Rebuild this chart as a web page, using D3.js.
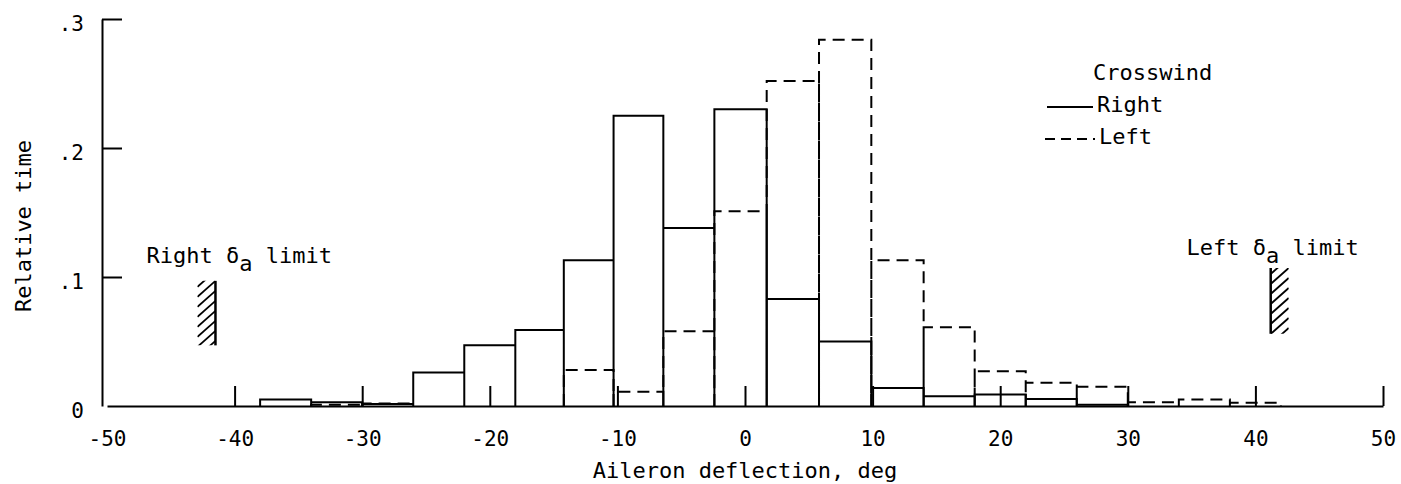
<!DOCTYPE html>
<html><head><meta charset="utf-8">
<script src="https://cdn.jsdelivr.net/npm/d3@7"></script>
<style>
html,body{margin:0;padding:0;background:#fff;}
svg{display:block;}
text{font-family:"DejaVu Sans Mono",monospace;fill:#000;}
</style></head><body>
<svg id="chart" width="1401" height="484"></svg>
<script>
// bin edges (deg) and relative time per bin
const binEdges = [-38,-34,-30,-26,-22,-18,-14.2,-10.3,-6.4,-2.4,1.7,5.8,9.9,14,18,22,26,30,34,38,42];
const rightWind = [0.005,0.003,0.0015,0.026,0.047,0.059,0.113,0.225,0.138,0.230,0.083,0.050,0.014,0.0075,0.009,0.0055,0.001,0,0,0];
const leftWind  = [0,0.001,0.002,0,0,0,0.028,0.011,0.058,0.151,0.252,0.284,0.113,0.061,0.027,0.018,0.015,0.003,0.005,0.0025];
const xTicks = [-50,-40,-30,-20,-10,0,10,20,30,40,50];
const yTicks = [0,0.1,0.2,0.3];
const yTickLabels = ["0",".1",".2",".3"];
const limitNames = ["Right","Left"];
const limitX = [-41.5,41.2];
const limitY = [[0.047,0.097],[0.056,0.107]];
const limitTextX = [-46.9,34.6];
const limitTextY = [0.111,0.117];

const svg = d3.select("#chart");
const x = d3.scaleLinear().domain([-50,50]).range([107,1383]);
const y = d3.scaleLinear().domain([0,0.3]).range([406,19]);
const axisX = 102;

// x axis (ticks pointing up)
const gx = svg.append("g").attr("transform",`translate(0,${y(0)})`)
  .call(d3.axisBottom(x).tickValues(xTicks).tickSize(-20).tickSizeOuter(0).tickPadding(27).tickFormat(d=>String(d)));
gx.select(".domain").attr("stroke","#000").attr("stroke-width",2);
gx.selectAll(".tick line").attr("stroke","#000").attr("stroke-width",2);
gx.selectAll(".tick").filter(d=>d===-50).select("line").remove();
gx.selectAll(".tick text").attr("font-size",21).attr("font-family","DejaVu Sans Mono").attr("dy","0.6em");

// y axis (ticks pointing right)
const gy = svg.append("g").attr("transform",`translate(${axisX},0)`)
  .call(d3.axisLeft(y).tickValues(yTicks).tickSize(-20).tickSizeOuter(0).tickPadding(18).tickFormat((d,i)=>yTickLabels[i]));
gy.select(".domain").attr("stroke","#000").attr("stroke-width",2);
gy.selectAll(".tick line").attr("stroke","#000").attr("stroke-width",2);
gy.selectAll(".tick").filter(d=>d===0).select("line").remove();
gy.selectAll(".tick text").attr("font-size",21).attr("font-family","DejaVu Sans Mono").attr("dy","0.55em");

// histogram outlines
function histPath(vals){
  let p = "";
  vals.forEach((v,i)=>{
    if(v<=0) return;
    const x0 = x(binEdges[i]), x1 = x(binEdges[i+1]);
    p += `M${x0},${y(0)}V${y(v)}H${x1}V${y(0)}`;
  });
  return p;
}
svg.append("path").attr("d",histPath(leftWind)).attr("fill","none").attr("stroke","#000")
  .attr("stroke-width",2).attr("stroke-dasharray","12,7");
svg.append("path").attr("d",histPath(rightWind)).attr("fill","none").attr("stroke","#000")
  .attr("stroke-width",2);

// aileron limits with hatching
const defs = svg.append("defs");
limitNames.forEach((name,i)=>{
  const lx = x(limitX[i]);
  const yTop = y(limitY[i][1]), yBot = y(limitY[i][0]);
  const w = 18, side = i===0 ? -1 : 1;
  const rx = side<0 ? lx-w : lx;
  defs.append("clipPath").attr("id","clip"+i).append("rect")
    .attr("x",rx).attr("y",yTop).attr("width",w).attr("height",yBot-yTop);
  const g = svg.append("g");
  g.append("line").attr("x1",lx).attr("x2",lx).attr("y1",yTop).attr("y2",yBot)
    .attr("stroke","#000").attr("stroke-width",2.5);
  const hg = g.append("g").attr("clip-path",`url(#clip${i})`);
  for(let yy=yTop-20; yy<yBot+20; yy+=10){
    hg.append("line").attr("x1",rx).attr("y1",yy+16).attr("x2",rx+w).attr("y2",yy)
      .attr("stroke","#000").attr("stroke-width",1.8);
  }
  const t = svg.append("text").attr("x",x(limitTextX[i])).attr("y",y(limitTextY[i])).attr("font-size",22);
  t.append("tspan").text(name+" δ");
  t.append("tspan").attr("dy",8).text("a");
  t.append("tspan").attr("dy",-8).text(" limit");
});

// axis titles
svg.append("text").attr("x",745).attr("y",478).attr("text-anchor","middle").attr("font-size",22)
  .text("Aileron deflection, deg");
svg.append("text").attr("transform","translate(31,226) rotate(-90)").attr("text-anchor","middle").attr("font-size",22)
  .text("Relative time");

// legend
const lg = svg.append("g");
lg.append("text").attr("x",1093).attr("y",80).attr("font-size",22).text("Crosswind");
lg.append("line").attr("x1",1047).attr("x2",1093).attr("y1",107).attr("y2",107).attr("stroke","#000").attr("stroke-width",2);
lg.append("text").attr("x",1097).attr("y",112).attr("font-size",22).text("Right");
lg.append("line").attr("x1",1045).attr("x2",1095).attr("y1",139).attr("y2",139).attr("stroke","#000").attr("stroke-width",2).attr("stroke-dasharray","10,6");
lg.append("text").attr("x",1099).attr("y",144).attr("font-size",22).text("Left");
</script>
</body></html>
